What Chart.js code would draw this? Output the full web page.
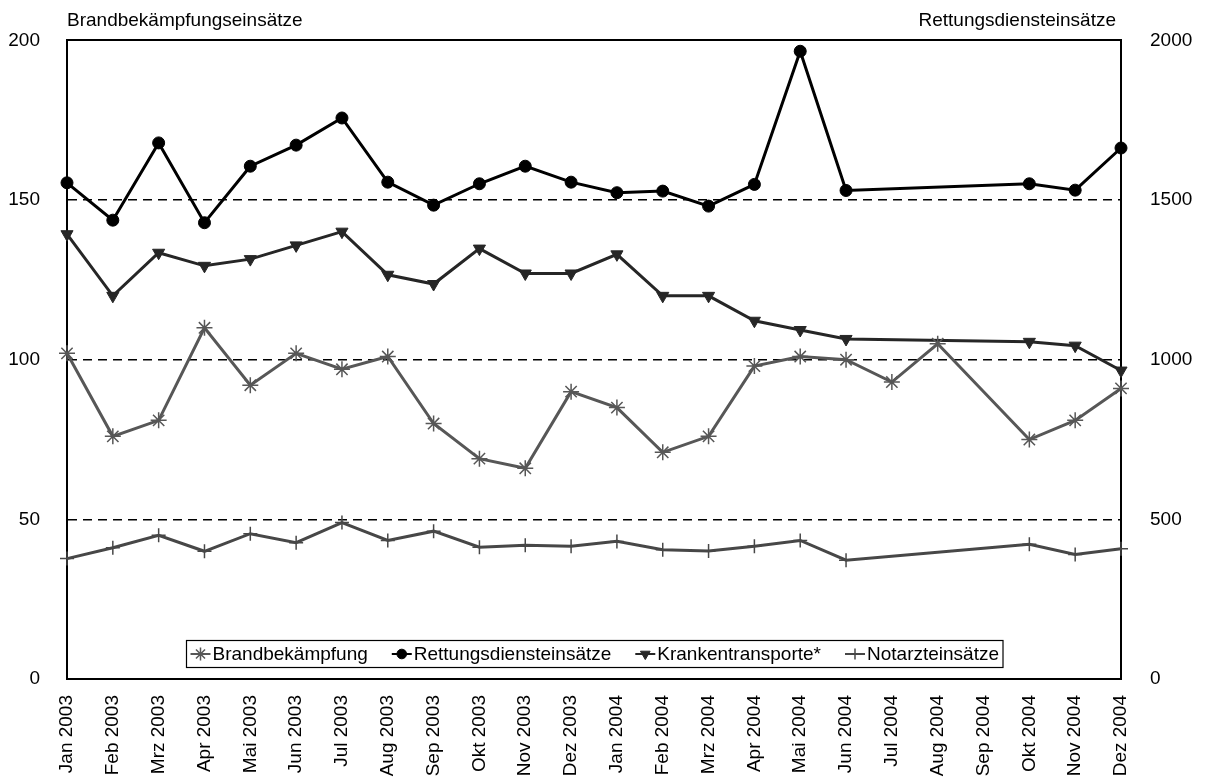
<!DOCTYPE html>
<html>
<head>
<meta charset="utf-8">
<title>Einsätze 2003 - 2004</title>
<script src="https://cdn.jsdelivr.net/npm/chart.js@4/dist/chart.umd.min.js"></script>
<style>
    html, body { margin: 0; padding: 0; background: #fff; }
    #wrap { width: 1205px; height: 780px; }
</style>
</head>
<body>
<div id="wrap"><canvas id="einsaetze" width="1205" height="780"></canvas></div>
<script>
'use strict';

var months = [
    'Jan 2003', 'Feb 2003', 'Mrz 2003', 'Apr 2003', 'Mai 2003', 'Jun 2003',
    'Jul 2003', 'Aug 2003', 'Sep 2003', 'Okt 2003', 'Nov 2003', 'Dez 2003',
    'Jan 2004', 'Feb 2004', 'Mrz 2004', 'Apr 2004', 'Mai 2004', 'Jun 2004',
    'Jul 2004', 'Aug 2004', 'Sep 2004', 'Okt 2004', 'Nov 2004', 'Dez 2004'
];

// left axis
var brandbekaempfung = [102, 76, 81, 110, 92, 102, 97, 101, 80, 69, 66, 90,
    85, 71, 76, 98, 101, 100, 93, 105, null, 75, 81, 91];

// right axis
var rettungsdienst = [1554, 1437, 1679, 1429, 1606, 1672, 1757, 1556, 1484, 1551, 1606, 1556,
    1523, 1528, 1481, 1549, 1966, 1530, null, null, null, 1551, 1531, 1663];
var krankentransporte = [1393, 1200, 1335, 1294, 1315, 1358, 1401, 1266, 1237, 1348, 1270, 1270,
    1330, 1200, 1200, 1122, 1093, 1065, null, null, null, 1056, 1044, 966];
var notarzt = [377, 411, 450, 400, 455, 427, 490, 434, 463, 413, 419, 416,
    431, 405, 401, 416, 434, 372, null, null, null, 422, 390, 408];

var leftTicks = [0, 50, 100, 150, 200];
var rightTicks = [0, 500, 1000, 1500, 2000];
var leftTitle = 'Brandbekämpfungseinsätze';
var rightTitle = 'Rettungsdiensteinsätze';

var FONT = '"Liberation Sans", Arial, sans-serif';
var FONT_SIZE = 19;

Chart.defaults.font.family = FONT;
Chart.defaults.font.size = FONT_SIZE;
Chart.defaults.color = '#000';

function gridDash(ctx) {
    if (ctx.tick && ctx.tick.value > 0 && ctx.tick.value < 200) {
        return [9, 6];
    }
    return [];
}

function gridWidth(ctx) {
    if (ctx.tick && (ctx.tick.value === 0 || ctx.tick.value === 200)) {
        return 2;
    }
    return 1.5;
}

// axis captions above the plot
var axisTitles = {
    id: 'axisTitles',
    afterDraw: function (chart) {
        var c = chart.ctx;
        var area = chart.chartArea;
        c.save();
        c.font = FONT_SIZE + 'px ' + FONT;
        c.fillStyle = '#000';
        c.textBaseline = 'alphabetic';
        c.textAlign = 'left';
        c.fillText(leftTitle, area.left, 26);
        c.textAlign = 'right';
        c.fillText(rightTitle, area.right - 5, 26);
        c.restore();
    }
};

// legend box drawn inside the plot, near the bottom
var innerLegend = {
    id: 'innerLegend',
    afterDraw: function (chart) {
        var c = chart.ctx;
        var area = chart.chartArea;
        var sets = chart.data.datasets;
        var lineLen = 20, gapAfter = 2, itemGap = 24, pad = 4, h = 27;
        var i, widths = [], total = 0;

        c.save();
        c.font = FONT_SIZE + 'px ' + FONT;
        for (i = 0; i < sets.length; i++) {
            widths[i] = lineLen + gapAfter + c.measureText(sets[i].label).width;
            total += widths[i];
        }
        total += itemGap * (sets.length - 1) + pad * 2;

        var x0 = Math.round((area.left + area.right) / 2 - total / 2) + 0.5;
        var y0 = Math.round(area.bottom - 12 - h) + 0.5;
        c.fillStyle = '#fff';
        c.fillRect(x0, y0, total, h);
        c.strokeStyle = '#000';
        c.lineWidth = 1.2;
        c.strokeRect(x0, y0, total, h);

        var x = x0 + pad;
        var cy = y0 + h / 2;
        for (i = 0; i < sets.length; i++) {
            var ds = sets[i];
            c.strokeStyle = ds.borderColor;
            c.lineWidth = 2;
            c.beginPath();
            c.moveTo(x, cy);
            c.lineTo(x + lineLen, cy);
            c.stroke();
            c.fillStyle = ds.pointBackgroundColor;
            c.strokeStyle = ds.pointBorderColor;
            c.lineWidth = ds.pointBorderWidth;
            Chart.helpers.drawPoint(c, {
                pointStyle: ds.pointStyle,
                rotation: ds.pointRotation || 0,
                radius: ds.pointRadius * 0.8,
                borderWidth: ds.pointBorderWidth
            }, x + lineLen / 2, cy);
            c.fillStyle = '#000';
            c.textAlign = 'left';
            c.textBaseline = 'middle';
            c.fillText(ds.label, x + lineLen + gapAfter, cy + 1);
            x += widths[i] + itemGap;
        }
        c.restore();
    }
};

var ctx = document.getElementById('einsaetze');

var myChart = new Chart(ctx, {
    type: 'line',
    data: {
        labels: months,
        datasets: [
            {
                label: 'Brandbekämpfung',
                data: brandbekaempfung,
                yAxisID: 'y',
                borderColor: '#575757',
                borderWidth: 3,
                pointStyle: 'star',
                pointRadius: 8,
                pointBorderWidth: 1.5,
                pointBorderColor: '#575757',
                pointBackgroundColor: '#575757'
            },
            {
                label: 'Rettungsdiensteinsätze',
                data: rettungsdienst,
                yAxisID: 'y1',
                borderColor: '#000000',
                borderWidth: 3,
                pointStyle: 'circle',
                pointRadius: 6,
                pointBorderWidth: 1,
                pointBorderColor: '#000000',
                pointBackgroundColor: '#000000'
            },
            {
                label: 'Krankentransporte*',
                data: krankentransporte,
                yAxisID: 'y1',
                borderColor: '#262626',
                borderWidth: 3,
                pointStyle: 'triangle',
                pointRotation: 180,
                pointRadius: 7,
                pointBorderWidth: 1,
                pointBorderColor: '#262626',
                pointBackgroundColor: '#262626'
            },
            {
                label: 'Notarzteinsätze',
                data: notarzt,
                yAxisID: 'y1',
                borderColor: '#474747',
                borderWidth: 3,
                pointStyle: 'cross',
                pointRadius: 7,
                pointBorderWidth: 1.5,
                pointBorderColor: '#474747',
                pointBackgroundColor: '#474747'
            }
        ]
    },
    options: {
        responsive: false,
        animation: false,
        devicePixelRatio: 1,
        spanGaps: true,
        layout: {
            padding: { top: 40, left: 0, right: 0, bottom: 0 }
        },
        plugins: {
            legend: { display: false },
            title: { display: false },
            tooltip: { enabled: false }
        },
        scales: {
            x: {
                offset: false,
                grid: { display: false, drawTicks: false },
                border: { display: true, color: '#000', width: 2 },
                ticks: {
                    autoSkip: false,
                    maxRotation: 90,
                    minRotation: 90,
                    padding: 16,
                    color: '#000'
                },
                afterFit: function (axis) {
                    axis.height = 101;
                }
            },
            y: {
                position: 'left',
                min: 0,
                max: 200,
                afterBuildTicks: function (axis) {
                    axis.ticks = leftTicks.map(function (v) { return { value: v }; });
                },
                afterFit: function (axis) {
                    axis.width = 67;
                },
                grid: {
                    color: '#000',
                    lineWidth: gridWidth,
                    drawTicks: false
                },
                border: { display: true, color: '#000', width: 2, dash: gridDash },
                ticks: { padding: 27, color: '#000' }
            },
            y1: {
                position: 'right',
                min: 0,
                max: 2000,
                afterBuildTicks: function (axis) {
                    axis.ticks = rightTicks.map(function (v) { return { value: v }; });
                },
                afterFit: function (axis) {
                    axis.width = 84;
                },
                grid: { drawOnChartArea: false, drawTicks: false },
                border: { display: true, color: '#000', width: 2 },
                ticks: {
                    padding: 29,
                    color: '#000',
                    callback: function (v) { return String(v); }
                }
            }
        }
    },
    plugins: [axisTitles, innerLegend]
});
</script>
</body>
</html>
